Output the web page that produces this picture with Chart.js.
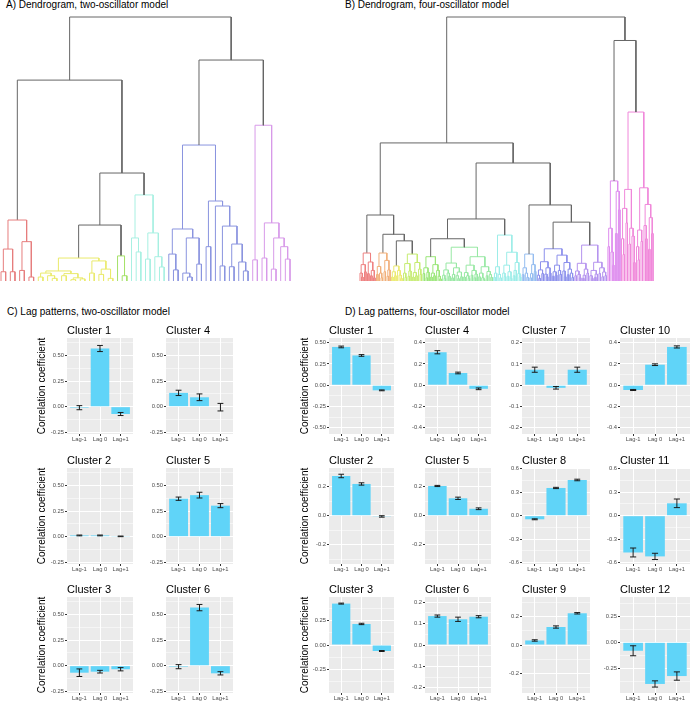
<!DOCTYPE html>
<html lang="en"><head><meta charset="utf-8"><title>Dendrograms and lag patterns</title>
<script src="https://cdn.jsdelivr.net/npm/chart.js@4.4.1/dist/chart.umd.min.js"></script>
<style>
html,body{margin:0;padding:0;background:#fff}
body{position:relative;width:691px;height:702px;overflow:hidden;font-family:"Liberation Sans",Arial,Helvetica,sans-serif}
.head{position:absolute;font-size:10px;line-height:12px;color:#000;white-space:nowrap}
</style></head><body>
<div class="head" style="left:6px;top:-1px">A) Dendrogram, two-oscillator model</div>
<div class="head" style="left:345px;top:-1px">B) Dendrogram, four-oscillator model</div>
<div class="head" style="left:7px;top:306px">C) Lag patterns, two-oscillator model</div>
<div class="head" style="left:345px;top:306px">D) Lag patterns, four-oscillator model</div>
<script>
// ================= DATA =================
const lagLabels = ['Lag-1', 'Lag 0', 'Lag+1'];

// C) two-oscillator model
const twoOscTitles = ['Cluster 1','Cluster 2','Cluster 3','Cluster 4','Cluster 5','Cluster 6'];
const twoOscValues = [
  [-0.010, 0.570, -0.072],
  [0.012, 0.012, 0.003],
  [-0.069, -0.059, -0.035],
  [0.135, 0.092, -0.005],
  [0.372, 0.407, 0.304],
  [-0.010, 0.569, -0.075]
];
const twoOscErrors = [
  [0.020, 0.030, 0.015],
  [0.004, 0.004, 0.003],
  [0.037, 0.013, 0.016],
  [0.026, 0.033, 0.037],
  [0.016, 0.028, 0.020],
  [0.020, 0.031, 0.016]
];
const twoOscTickLabels = ['-0.25','0.00','0.25','0.50'];
const twoOscRange = [-0.268, 0.673];

// D) four-oscillator model
const fourOscTitles = ['Cluster 1','Cluster 2','Cluster 3','Cluster 4','Cluster 5','Cluster 6',
                       'Cluster 7','Cluster 8','Cluster 9','Cluster 10','Cluster 11','Cluster 12'];
const fourOscValues = [
  [0.450, 0.350, -0.060],
  [0.274, 0.219, -0.005],
  [0.427, 0.217, -0.062],
  [0.310, 0.115, -0.034],
  [0.205, 0.120, 0.048],
  [0.135, 0.120, 0.132],
  [0.073, -0.012, 0.073],
  [-0.046, 0.354, 0.456],
  [0.032, 0.127, 0.224],
  [-0.045, 0.193, 0.360],
  [-0.470, -0.520, 0.158],
  [-0.081, -0.400, -0.324]
];
const fourOscErrors = [
  [0.010, 0.010, 0.005],
  [0.012, 0.008, 0.005],
  [0.005, 0.007, 0.005],
  [0.015, 0.008, 0.008],
  [0.004, 0.008, 0.006],
  [0.005, 0.010, 0.005],
  [0.012, 0.006, 0.012],
  [0.006, 0.008, 0.010],
  [0.005, 0.008, 0.005],
  [0.005, 0.008, 0.010],
  [0.057, 0.040, 0.055],
  [0.048, 0.030, 0.040]
];
const fourOscTickLabels = [
  ['-0.50','-0.25','0.00','0.25','0.50'],
  ['-0.2','0.0','0.2'],
  ['-0.25','0.00','0.25'],
  ['-0.4','-0.2','0.0','0.2','0.4'],
  ['-0.2','0.0','0.2'],
  ['-0.2','-0.1','0.0','0.1','0.2'],
  ['-0.2','-0.1','0.0','0.1','0.2'],
  ['-0.6','-0.3','0.0','0.3','0.6'],
  ['-0.2','0.0','0.2'],
  ['-0.4','-0.2','0.0','0.2','0.4'],
  ['-0.6','-0.3','0.0','0.3','0.6'],
  ['-0.25','0.00','0.25']
];
const fourOscRanges = [
  [-0.573, 0.555], [-0.333, 0.329], [-0.495, 0.495],
  [-0.459, 0.444], [-0.333, 0.329], [-0.224, 0.224],
  [-0.229, 0.222], [-0.617, 0.609], [-0.339, 0.339],
  [-0.459, 0.444], [-0.617, 0.609], [-0.487, 0.436]
];

// A) dendrogram, two-oscillator model: [mergeHeight, left, right], 0 = leaf, name = coloured cluster
const dendroA_top = [10, [7.61, 'red', [4.09, [2.12, 'yellow', 'green'], 'cyan']], [8.37, 'blue', 'magenta']];
const dendroA_clusters = {
  red: [2.31, [1.21,[0.35,0,0],[0.35,0,0]], [1.49,[0.4,0,0],[0.15,0,0]]],
  yellow: [0.87, [0.38, [0.3,[0.15,0,0],[0.2,0,[0.1,0,0]]], [0.28,[0.2,0,0],[0.12,[0.05,0,0],[0.08,0,0]]]], [0.76,[0.3,0,0],[0.45,[0.25,0,0],[0.1,0,0]]]],
  green: [0.95, 0, [0.2,0,0]],
  cyan: [3.26, [1.63,0,[1.1,0,0]], [1.82,[0.83,0,0],[0.92,0,[0.53,0,0]]]],
  blue: [5.15, [1.97,[1.02,0,[0.42,0,0]],[1.63,[0.3,0,[0.15,0,0]],[0.64,0,0]]], [3.03,[1.3,0,0],[2.84,0,[2.08,[0.57,0,0],[1.4,[0.54,0,0],[0.72,0,[0.38,0,0]]]]]]],
  magenta: [5.9, [0.8,0,0], [2.2,[0.87,0,0],[1.63,[0.45,0,0],[1.3,0,[0.83,0,0]]]]]
};

// B) dendrogram, four-oscillator model
const dendroB_top = [10, [5.23, [2.5, 'red', [1.77, 'orange', [1.52, 'yellow', 'lime']]], [4.47, [2.35, [1.6, 'green', 'spring'], 'cyan'], [2.88, 'sky', [2.23, 'blue', 'violet']]]], [9.11, 'magenta', 'pink']];
const dendroB_clusters = {
  red: [1.06, [0.62,[0.3,0,[0.15,0,0]],[0.35,0,0]], [0.72,[0.28,0,0],[0.4,[0.2,0,0],[0.12,0,0]]]],
  orange: [1.06, [0.55,[0.25,0,0],[0.3,0,[0.12,0,0]]], [0.78,[0.35,0,0],[0.42,[0.18,0,0],0]]],
  yellow: [0.57, [0.35,[0.15,0,0],[0.2,0,0]], [0.4,0,[0.22,0,[0.1,0,0]]]],
  lime: [1.02, [0.66,[0.3,0,[0.14,0,0]],[0.38,[0.18,0,0],0]], [0.7,[0.32,[0.15,0,0],[0.2,0,0]],[0.45,0,[0.25,0,0]]]],
  green: [0.92, [0.5,[0.28,0,0],[0.33,[0.12,0,0],0]], [0.62,[0.3,[0.15,0,0],[0.2,0,0]],[0.4,0,[0.18,0,[0.08,0,0]]]]],
  spring: [1.28,
    [0.68, [0.42,[0.22,0,[0.1,0,0]],[0.3,0,[0.18,0,0]]], [0.5,[0.25,[0.12,0,0],0],[0.34,[0.2,0,[0.09,0,0]],[0.16,0,0]]]],
    [0.92, [0.6,[0.32,[0.15,0,0],[0.2,0,[0.1,0,0]]],[0.4,[0.22,0,0],[0.26,[0.12,0,0],0]]], [0.54,[0.3,[0.16,0,0],[0.12,0,[0.06,0,0]]],[0.36,[0.2,0,0],[0.24,0,[0.14,0,0]]]]]],
  cyan: [1.74, [0.54,[0.3,[0.14,0,0],0],[0.25,0,[0.12,0,0]]], [1.09,[0.6,[0.3,0,[0.16,0,0]],[0.35,[0.18,0,0],[0.1,0,0]]],[0.7,[0.4,[0.2,0,0],0],[0.28,0,[0.15,0,0]]]]],
  sky: [1.02, [0.5,[0.24,0,0],[0.3,0,[0.14,0,0]]], [0.62,[0.28,[0.12,0,0],0],[0.36,0,0]]],
  blue: [1.22, [0.73,[0.42,[0.22,0,[0.1,0,0]],[0.28,0,0]],[0.5,[0.26,0,[0.16,0,0]],[0.3,0,0]]], [0.98,[0.6,[0.35,[0.18,0,0],[0.22,0,0]],[0.4,0,[0.25,0,0]]],[0.7,[0.38,0,[0.16,0,0]],[0.45,[0.24,0,0],[0.3,0,[0.13,0,0]]]]]],
  violet: [1.36, [0.67,[0.38,[0.2,0,0],[0.25,0,[0.12,0,0]]],[0.45,[0.22,[0.1,0,0],0],[0.3,0,0]]], [0.71,[0.4,[0.2,0,[0.1,0,0]],[0.26,[0.14,0,0],0]],[0.5,[0.28,0,0],[0.34,[0.16,0,0],[0.2,0,0]]]]],
  magenta: [3.79, [2.0,[1.3,0,0],[1.1,0,[0.6,0,0]]], [3.4,[1.8,0,0],[2.7,0,0]]],
  pink: [6.4, [3.47,[2.75,[1.6,0,[1.0,0,0]],[2.2,0,0]],[2.0,[1.4,0,0],[1.7,0,[0.7,0,0]]]], [3.53,[1.93,[1.3,0,[0.8,0,0]],[1.5,0,0]],[2.9,[2.1,0,[1.6,0,0]],[2.4,[1.2,0,0],[1.8,0,0]]]]]
};

// ================= STYLE =================
const FONT = '"Liberation Sans", Arial, Helvetica, sans-serif';
Chart.defaults.font.family = FONT;
const GRAY = '#666666';
const BAR = '#60D4F8';
const colorsA = {red:'#E67E7E', yellow:'#EAEA6C', green:'#A6E26A', cyan:'#A8F0E2', blue:'#8A94DF', magenta:'#D89BE9'};
const colorsB = {red:'#EE8080', orange:'#F1B07B', yellow:'#ECEA70', lime:'#C6EC72', green:'#9BE67A', spring:'#98E8A4',
                 cyan:'#9CEDE8', sky:'#95BDF0', blue:'#8C90EC', violet:'#B493EE', magenta:'#DE8CEE', pink:'#F088DA'};

function makeCanvas(x, y, w, h) {
  const c = document.createElement('canvas');
  c.width = w; c.height = h;
  c.style.cssText = 'position:absolute;left:' + x + 'px;top:' + y + 'px;width:' + w + 'px;height:' + h + 'px;';
  document.body.appendChild(c);
  return c;
}

// ================= DENDROGRAMS =================
function drawDendro(topTree, clusters, colors, frame) {
  const segs = new Map();
  let leaf = 0;
  const push = (col, pts) => {
    if (!segs.has(col)) segs.set(col, []);
    const a = segs.get(col);
    pts.forEach(p => a.push(p));
    a.push({x: null, y: null});
  };
  const walk = (node, col) => {
    if (node === 0) return {x: leaf++, h: 0};
    if (typeof node === 'string') return walk(clusters[node], colors[node]);
    const h = node[0];
    const A = walk(node[1], col), B = walk(node[2], col);
    push(col, [{x: A.x, y: A.h}, {x: A.x, y: h}, {x: B.x, y: h}, {x: B.x, y: B.h}]);
    return {x: (A.x + B.x) / 2, h: h};
  };
  walk(topTree, GRAY);
  const n = leaf;
  const s = (frame.leafRight - frame.leafLeft) / (n - 1);
  const c = makeCanvas(frame.left, frame.top, frame.width, frame.height);
  const datasets = [];
  segs.forEach((pts, col) => datasets.push({data: pts, borderColor: col, borderWidth: 1, showLine: true,
    pointRadius: 0, spanGaps: false, fill: false}));
  new Chart(c, {type: 'scatter', data: {datasets: datasets}, options: {
    responsive: false, animation: false, events: [],
    layout: {padding: 0},
    scales: {
      x: {type: 'linear', display: false, min: (frame.left - frame.leafLeft) / s, max: (frame.left + frame.width - frame.leafLeft) / s},
      y: {type: 'linear', display: false, min: -(frame.top + frame.height - frame.baseY) / frame.unit, max: (frame.baseY - frame.top) / frame.unit}
    },
    plugins: {legend: {display: false}, tooltip: {enabled: false}}
  }});
}

drawDendro(dendroA_top, dendroA_clusters, colorsA,
  {left: 0, top: 12, width: 345, height: 274, leafLeft: 1, leafRight: 290, baseY: 281, unit: 26.4});
drawDendro(dendroB_top, dendroB_clusters, colorsB,
  {left: 345, top: 12, width: 346, height: 274, leafLeft: 360, leafRight: 653, baseY: 281, unit: 26.4});

// ================= BAR PANELS =================
const panelBg = {
  id: 'panelBg',
  beforeDraw(chart) {
    const {ctx, chartArea: a} = chart;
    ctx.save(); ctx.fillStyle = '#EBEBEB';
    ctx.fillRect(a.left, a.top, a.right - a.left, a.bottom - a.top);
    ctx.restore();
  }
};
const errorBars = {
  id: 'errorBars',
  afterDatasetsDraw(chart) {
    const {ctx, scales: {x, y}} = chart;
    const ds = chart.data.datasets[0];
    ctx.save(); ctx.strokeStyle = '#1a1a1a'; ctx.lineWidth = 1;
    ds.data.forEach((p, i) => {
      const e = ds.errors[i];
      const cx = x.getPixelForValue(p.x);
      const hw = x.getPixelForValue(p.x + 0.14) - cx;
      const y1 = y.getPixelForValue(p.y - e), y2 = y.getPixelForValue(p.y + e);
      ctx.beginPath();
      ctx.moveTo(cx, y1); ctx.lineTo(cx, y2);
      ctx.moveTo(cx - hw, y1); ctx.lineTo(cx + hw, y1);
      ctx.moveTo(cx - hw, y2); ctx.lineTo(cx + hw, y2);
      ctx.stroke();
    });
    ctx.restore();
  }
};

function drawPanel(cfg) {
  const x0 = cfg.cols[0], x1 = cfg.cols[1], y0 = cfg.rows[0], y1 = cfg.rows[1];
  const TH = 14, XH = 12, W = cfg.yW;
  const c = makeCanvas(x0 - W, y0 - TH, x1 - x0 + W, y1 - y0 + TH + XH);
  const majors = cfg.ticks.map(Number);
  const step = majors[1] - majors[0];
  const minors = [];
  for (let i = -1; i < majors.length; i++) {
    const m = i < 0 ? majors[0] - step / 2 : majors[i] + step / 2;
    if (m > cfg.range[0] && m < cfg.range[1]) minors.push(m);
  }
  const isMajor = v => majors.some(m => Math.abs(m - v) < 1e-9);
  const yVals = majors.concat(minors);
  new Chart(c, {
    type: 'bar',
    data: {datasets: [{
      data: cfg.values.map((v, i) => ({x: i + 1, y: v})),
      errors: cfg.errors,
      backgroundColor: BAR, borderWidth: 0,
      barPercentage: 0.9, categoryPercentage: 1.0
    }]},
    options: {
      responsive: false, animation: false, events: [],
      layout: {padding: 0},
      scales: {
        x: {
          type: 'linear', min: 0.4, max: 3.6, offset: false,
          afterBuildTicks: s => { s.ticks = lagLabels.map((_, i) => ({value: i + 1})); },
          afterFit: s => { s.height = XH; },
          ticks: {callback: v => lagLabels[Math.round(v) - 1] || '', font: {size: 5.8}, color: '#4D4D4D',
                  padding: 0, maxRotation: 0, autoSkip: false},
          grid: {color: '#FFFFFF', lineWidth: 1, offset: false, drawTicks: true, tickLength: 2, tickColor: '#333333', tickWidth: 1},
          border: {display: false}
        },
        y: {
          type: 'linear', min: cfg.range[0], max: cfg.range[1],
          afterBuildTicks: s => { s.ticks = yVals.map(v => ({value: v})); },
          afterFit: s => { s.width = W; },
          ticks: {callback: v => { const i = majors.findIndex(m => Math.abs(m - v) < 1e-9); return i >= 0 ? cfg.ticks[i] : ''; },
                  font: {size: 5.8}, color: '#4D4D4D', padding: 1, autoSkip: false},
          grid: {color: '#FFFFFF', lineWidth: ctx => (isMajor(ctx.tick.value) ? 1 : 0.5), drawTicks: true, tickLength: 2,
                 tickColor: ctx => (isMajor(ctx.tick.value) ? '#333333' : 'rgba(0,0,0,0)'), tickWidth: 1},
          border: {display: false},
          title: {display: !!cfg.yTitle, text: 'Correlation coefficient', font: {size: 10}, color: '#000', padding: 0}
        }
      },
      plugins: {
        legend: {display: false}, tooltip: {enabled: false},
        title: {display: true, text: cfg.title, align: 'start', fullSize: false,
                font: {size: 11, weight: 'normal', lineHeight: 1}, color: '#000', padding: {top: 1, bottom: 2}}
      }
    },
    plugins: [panelBg, errorBars]
  });
}

const rowsY = [[338, 434], [468, 564], [597, 693]];
const cCols = [[67, 133], [166, 233]];
const dCols = [[329, 394], [425, 491], [522, 590], [620, 690]];

twoOscTitles.forEach((t, k) => {
  const col = Math.floor(k / 3), row = k % 3;
  drawPanel({title: t, values: twoOscValues[k], errors: twoOscErrors[k], ticks: twoOscTickLabels, range: twoOscRange,
             cols: cCols[col], rows: rowsY[row], yTitle: col === 0, yW: col === 0 ? 31 : 28});
});
fourOscTitles.forEach((t, k) => {
  const col = Math.floor(k / 3), row = k % 3;
  drawPanel({title: t, values: fourOscValues[k], errors: fourOscErrors[k], ticks: fourOscTickLabels[k], range: fourOscRanges[k],
             cols: dCols[col], rows: rowsY[row], yTitle: col === 0, yW: col === 0 ? 30 : 28});
});
</script>
</body></html>
